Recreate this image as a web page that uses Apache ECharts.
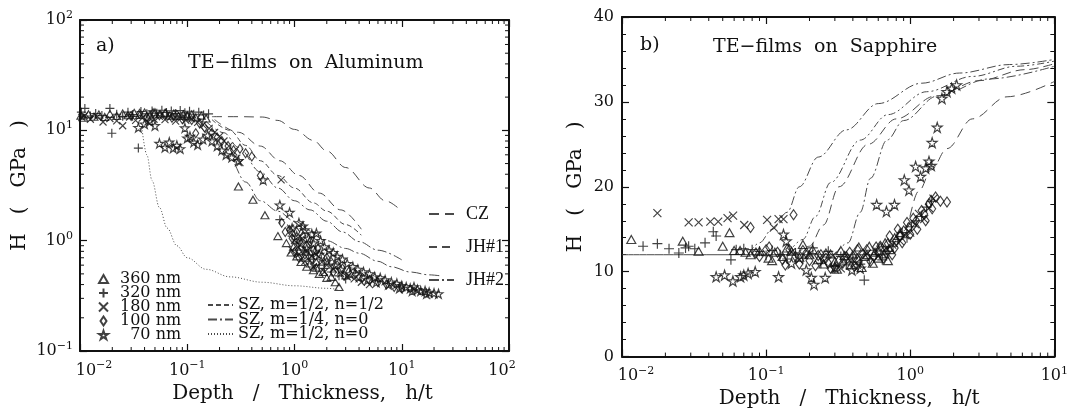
<!DOCTYPE html>
<html>
<head>
<meta charset="utf-8">
<title>TE-films hardness vs depth / thickness</title>
<script src="https://cdn.jsdelivr.net/npm/echarts@6.0.0/dist/echarts.min.js"></script>
<style>
  html, body { margin: 0; padding: 0; background: #fff; }
  #chart { width: 1071px; height: 414px; }
</style>
</head>
<body>
<div id="chart"></div>
<script>
// ---- panel a) TE-films on Aluminum : [h/t, H (GPa)] ----
const a360 = [
  [0.0102, 13.6], [0.0108, 13.0], [0.012, 14.0], [0.0135, 13.3], [0.015, 13.9], [0.017, 13.2], [0.019, 14.1],
  [0.022, 13.5], [0.025, 14.2], [0.028, 13.7], [0.032, 14.4], [0.036, 13.8], [0.04, 14.5], [0.045, 13.9],
  [0.05, 14.6], [0.056, 14.0], [0.062, 14.4], [0.068, 13.6], [0.075, 14.2], [0.083, 13.5], [0.092, 14.0],
  [0.1, 13.4], [0.11, 13.9], [0.12, 13.1], [0.135, 13.6], [0.15, 12.8],
  [0.3, 3.1], [0.41, 2.35], [0.53, 1.7], [0.7, 1.1], [0.84, 0.95], [0.93, 0.78], [0.98, 0.88], [1.05, 0.72],
  [1.1, 0.8], [1.15, 0.64], [1.25, 0.7], [1.3, 0.58], [1.4, 0.62], [1.5, 0.54], [1.6, 0.57], [1.7, 0.5],
  [1.85, 0.52], [2.0, 0.46], [2.2, 0.47], [2.4, 0.42], [2.6, 0.38]
]
const a320 = [
  [0.0103, 14.6], [0.0111, 15.8], [0.0125, 13.5], [0.014, 14.2], [0.016, 13.6], [0.019, 15.8], [0.0198, 9.4],
  [0.022, 14.0], [0.025, 13.4], [0.028, 14.6], [0.031, 13.9], [0.035, 6.9], [0.037, 14.8], [0.042, 14.1],
  [0.047, 15.0], [0.052, 14.3], [0.058, 15.2], [0.064, 14.5], [0.071, 15.0], [0.078, 14.2], [0.086, 15.1],
  [0.095, 14.4], [0.105, 14.9], [0.115, 14.0], [0.128, 14.6], [0.142, 13.8], [0.158, 14.1],
  [0.73, 1.55], [0.95, 1.1], [1.05, 0.95], [1.2, 0.82], [1.35, 0.74], [1.5, 0.68], [1.7, 0.6], [1.9, 0.56],
  [2.2, 0.52], [2.6, 0.48], [3.0, 0.45]
]
const a180 = [
  [0.0104, 13.1], [0.011, 13.6], [0.0125, 12.6], [0.0145, 13.3], [0.0164, 11.9], [0.019, 12.8], [0.022, 12.2],
  [0.025, 11.0], [0.029, 13.2], [0.033, 12.3], [0.038, 12.9], [0.043, 11.9], [0.049, 12.6], [0.055, 13.4],
  [0.062, 12.5], [0.07, 13.2], [0.078, 12.1], [0.087, 12.9], [0.097, 12.3], [0.11, 12.7], [0.125, 11.8],
  [0.14, 11.2], [0.16, 10.4], [0.18, 9.6], [0.2, 8.8], [0.22, 8.0], [0.245, 7.2], [0.27, 6.4], [0.29, 5.6], [0.31, 5.1],
  [0.75, 3.55], [0.92, 1.3], [1.0, 1.0], [1.08, 0.88], [1.18, 1.05], [1.3, 0.8], [1.45, 0.72], [1.6, 0.75],
  [1.8, 0.64], [2.0, 0.6], [2.3, 0.55], [2.7, 0.5], [3.1, 0.47], [3.6, 0.45], [4.2, 0.42], [5.0, 0.4],
  [0.95, 0.82], [1.1, 0.75], [1.25, 0.65], [1.5, 0.58], [1.9, 0.52]
]
const a100 = [
  [0.03, 13.5], [0.036, 14.1], [0.042, 13.2], [0.048, 14.3], [0.055, 13.7], [0.063, 14.1], [0.072, 13.0],
  [0.08, 13.8], [0.09, 12.6], [0.1, 13.4], [0.11, 12.4], [0.12, 9.4], [0.13, 11.6], [0.145, 10.6], [0.17, 9.5],
  [0.19, 8.6], [0.21, 8.0], [0.24, 7.2], [0.27, 6.6], [0.31, 6.8], [0.35, 6.2], [0.4, 5.8], [0.48, 3.9],
  [0.76, 1.45], [0.82, 1.2], [0.9, 1.25], [0.95, 1.05], [1.05, 1.2], [1.12, 0.98], [1.2, 1.1], [1.3, 0.9],
  [1.4, 0.98], [1.5, 0.82], [1.65, 0.85], [1.8, 0.72], [2.0, 0.7], [2.2, 0.64], [2.5, 0.6], [2.8, 0.56],
  [3.2, 0.52], [3.7, 0.5], [4.3, 0.46], [5.0, 0.44], [6.0, 0.42], [7.2, 0.4], [8.5, 0.38], [10, 0.37],
  [1.0, 0.78], [1.1, 0.7], [1.25, 0.75], [1.45, 0.68], [1.6, 0.62], [2.3, 0.52], [2.9, 0.48]
]
const a70 = [
  [0.035, 10.6], [0.04, 11.4], [0.045, 12.1], [0.05, 11.0], [0.055, 7.6], [0.062, 7.0], [0.068, 7.8],
  [0.074, 6.9], [0.08, 7.3], [0.086, 6.8], [0.095, 10.5], [0.1, 8.5], [0.106, 8.8], [0.115, 7.8], [0.125, 7.4],
  [0.14, 8.3], [0.155, 9.0], [0.17, 8.0], [0.19, 7.2], [0.21, 6.6], [0.23, 6.0], [0.26, 5.7], [0.3, 5.3],
  [0.51, 3.55], [0.73, 2.1], [0.9, 1.8], [1.1, 1.45], [1.25, 1.25], [1.45, 1.15], [1.6, 1.17], [1.35, 1.05],
  [1.5, 0.95], [1.75, 1.0], [1.9, 0.88], [2.1, 0.82], [2.3, 0.78], [2.5, 0.72], [2.8, 0.68], [3.1, 0.62],
  [3.5, 0.58], [3.9, 0.55], [4.4, 0.52], [5.0, 0.5], [5.6, 0.47], [6.3, 0.46], [7.0, 0.44], [8.0, 0.42],
  [9.0, 0.41], [10, 0.39], [11, 0.38], [12, 0.37], [13, 0.38], [14, 0.36], [15, 0.35], [16.5, 0.35],
  [18, 0.34], [20, 0.335], [22, 0.33],
  [0.95, 1.3], [1.05, 1.1], [1.15, 0.95], [1.2, 1.35], [1.3, 0.85], [1.55, 0.8], [1.7, 0.75], [2.0, 0.65],
  [2.4, 0.6], [2.7, 0.55], [3.3, 0.5], [4.0, 0.47], [4.8, 0.44], [5.8, 0.42], [7.5, 0.4], [9.5, 0.37],
  [12.5, 0.35], [17, 0.33]
]

// model curves, panel a
const czA = [[0.17, 13.3], [0.3, 13.3], [0.5, 13.2], [0.7, 12.3], [1.0, 10.2], [1.5, 8.1], [2.0, 6.5], [3.0, 4.6], [5.0, 3.0], [7.0, 2.3], [10, 1.85]]
const jh1A = [[0.18, 12.5], [0.3, 9.6], [0.48, 7.2], [0.73, 5.3], [1.1, 3.9], [1.7, 2.7], [2.7, 1.9], [4.2, 1.27]]
const sz22A = [[0.17, 12.5], [0.25, 10.0], [0.35, 7.3], [0.48, 5.3], [0.7, 3.9], [1.0, 3.0], [1.5, 2.2], [2.0, 1.85], [3.0, 1.4], [4.2, 1.12]]
const sz40A = [[0.15, 12.0], [0.22, 9.5], [0.3, 7.0], [0.48, 4.2], [0.7, 3.0], [1.0, 2.3], [1.4, 1.9], [2.0, 1.5], [2.8, 1.2], [4.0, 0.98], [6.0, 0.82], [10, 0.67]]
const jh2A = [[0.13, 11.0], [0.18, 8.5], [0.25, 5.5], [0.35, 3.4], [0.48, 2.3], [0.7, 1.85], [1.0, 1.5], [1.5, 1.2], [2.0, 1.0], [3.0, 0.85], [4.0, 0.77], [6.0, 0.65], [8.0, 0.58], [12, 0.52], [18, 0.49], [23, 0.48]]
const sz20A = [[0.038, 10.0], [0.042, 6.0], [0.047, 3.5], [0.055, 2.0], [0.065, 1.3], [0.08, 0.9], [0.1, 0.7], [0.15, 0.55], [0.25, 0.47], [0.5, 0.42], [1.0, 0.39], [2.0, 0.37], [2.6, 0.36]]

// ---- panel b) TE-films on Sapphire : [h/t, H (GPa)] ----
const b360 = [
  [0.0116, 13.8], [0.0264, 13.6], [0.034, 12.4], [0.05, 13.0], [0.0557, 14.6], [0.06, 12.5], [0.066, 12.5],
  [0.072, 12.3], [0.078, 12.0], [0.09, 12.4], [0.104, 11.6], [0.115, 12.3], [0.13, 11.8], [0.15, 12.4],
  [0.18, 13.2], [0.2, 12.0], [0.23, 11.4], [0.26, 12.2], [0.3, 11.2], [0.33, 12.5], [0.36, 11.5], [0.4, 12.0],
  [0.44, 12.9], [0.48, 11.8], [0.52, 13.0], [0.57, 12.3], [0.62, 12.9], [0.67, 13.4], [0.72, 12.6], [0.78, 14.0], [0.85, 14.6],
  [0.11, 11.3], [0.14, 12.8], [0.17, 11.7], [0.21, 12.6], [0.25, 10.9], [0.28, 12.1], [0.31, 10.3], [0.35, 11.9],
  [0.39, 10.8], [0.43, 11.6], [0.46, 10.5], [0.5, 12.0], [0.55, 11.0], [0.6, 11.6], [0.66, 12.1], [0.7, 11.3]
]
const b320 = [
  [0.014, 13.0], [0.0176, 13.3], [0.0212, 12.7], [0.0248, 12.2], [0.0276, 12.8], [0.029, 13.0], [0.032, 12.7],
  [0.0377, 13.4], [0.043, 14.7], [0.045, 14.2], [0.057, 11.4], [0.062, 12.6], [0.07, 12.7], [0.08, 12.6],
  [0.09, 12.4], [0.1, 11.9], [0.11, 12.5], [0.125, 12.0], [0.14, 11.5], [0.16, 12.2], [0.18, 11.6], [0.211, 12.8],
  [0.24, 11.0], [0.27, 12.4], [0.3, 10.6], [0.33, 11.8], [0.36, 10.8], [0.4, 11.7], [0.45, 10.9], [0.48, 9.0],
  [0.52, 11.5], [0.58, 12.0], [0.64, 11.4], [0.7, 12.4], [0.76, 13.0], [0.82, 13.8], [0.88, 14.6], [0.95, 14.0],
  [1.02, 15.3], [1.1, 16.0], [1.2, 16.5], [1.3, 17.6], [1.4, 18.3]
]
const b180 = [
  [0.0176, 16.9], [0.029, 15.8], [0.034, 15.8], [0.041, 15.9], [0.0465, 15.9], [0.054, 16.3], [0.059, 16.6],
  [0.0705, 15.5], [0.1016, 16.1], [0.113, 15.2], [0.122, 16.2], [0.132, 16.2], [0.15, 12.3], [0.17, 11.4],
  [0.2, 12.1], [0.25, 11.2], [0.29, 11.9], [0.33, 10.4], [0.38, 11.3], [0.42, 11.0], [0.5, 12.1], [0.6, 11.8],
  [0.68, 12.8], [0.75, 13.2], [0.85, 13.6], [0.92, 14.3], [1.0, 14.6], [1.08, 15.6], [1.15, 16.8], [1.25, 16.2],
  [1.35, 17.5], [1.45, 18.6]
]
const b100 = [
  [0.078, 15.2], [0.085, 12.2], [0.1, 12.6], [0.12, 12.3], [0.136, 10.8], [0.155, 16.7], [0.16, 11.8],
  [0.18, 12.5], [0.2, 11.3], [0.22, 10.7], [0.24, 12.0], [0.26, 11.6], [0.28, 10.4], [0.3, 10.5], [0.32, 11.3],
  [0.34, 11.0], [0.38, 12.3], [0.41, 10.6], [0.44, 11.3], [0.47, 12.1], [0.5, 12.6], [0.53, 11.2], [0.56, 11.8],
  [0.6, 12.4], [0.62, 13.0], [0.65, 11.6], [0.68, 12.2], [0.72, 14.2], [0.75, 12.0], [0.78, 12.8], [0.82, 15.0],
  [0.88, 13.4], [0.95, 15.8], [1.0, 14.4], [1.05, 16.3], [1.12, 15.0], [1.2, 17.2], [1.28, 16.0], [1.35, 18.0],
  [1.42, 17.4], [1.5, 18.8], [1.62, 18.3], [1.8, 18.2],
  [0.09, 11.8], [0.105, 12.9], [0.13, 11.4], [0.145, 12.6], [0.17, 10.9], [0.19, 12.2], [0.23, 11.9], [0.27, 11.0],
  [0.36, 11.8], [0.43, 12.6], [0.58, 12.9], [0.7, 13.3], [0.8, 13.6], [0.85, 14.2], [0.9, 14.8], [0.98, 15.2],
  [1.1, 16.0], [1.25, 16.8], [1.4, 18.4]
]
const b70 = [
  [0.045, 9.4], [0.0515, 9.6], [0.0588, 8.9], [0.0665, 9.4], [0.07, 9.6], [0.075, 9.8], [0.084, 10.0],
  [0.122, 9.4], [0.132, 14.4], [0.138, 13.6], [0.15, 11.0], [0.19, 10.2], [0.206, 9.3], [0.215, 8.5],
  [0.257, 9.3], [0.3, 10.5], [0.394, 10.2], [0.45, 10.4], [0.585, 17.9], [0.684, 17.1], [0.778, 17.9],
  [0.91, 20.8], [0.98, 19.6], [1.09, 22.4], [1.18, 21.2], [1.28, 22.2], [1.35, 23.0], [1.4, 22.5],
  [1.42, 25.2], [1.54, 27.0], [1.66, 30.4], [1.8, 31.2], [1.94, 31.6], [2.1, 32.0]
]

// model curves, panel b
const baseB = [[0.01, 12.0], [0.7, 12.0]]
const curveB1 = [[0.075, 12.0], [0.09, 13.4], [0.11, 15.0], [0.14, 17.0], [0.17, 20.0], [0.23, 23.5], [0.36, 26.7], [0.6, 29.8], [1.2, 32.2], [2.2, 33.4], [4.9, 34.4], [10, 35.0]]
const curveB2 = [[0.14, 12.0], [0.18, 13.8], [0.22, 16.5], [0.28, 20.5], [0.45, 25.5], [0.7, 28.5], [1.3, 31.2], [2.7, 33.0], [5.5, 34.2], [10, 34.8]]
const curveB3 = [[0.16, 12.0], [0.2, 13.0], [0.25, 15.5], [0.32, 20.0], [0.51, 25.0], [0.8, 28.0], [1.5, 30.7], [3.0, 32.5], [6.3, 33.8], [10, 34.5]]
const curveB4 = [[0.3, 12.0], [0.37, 13.4], [0.45, 17.0], [0.53, 21.0], [0.69, 25.5], [0.9, 27.8], [1.55, 30.7], [3.5, 32.7], [10, 34.2]]
const curveB5 = [[0.65, 12.0], [0.9, 14.8], [1.15, 19.5], [1.4, 22.0], [1.8, 24.5], [2.7, 28.0], [4.7, 30.6], [10, 32.4]]

// minor tick multipliers for the log axes
const minorMult = [2, 3, 4, 5, 6, 7, 8, 9]
const decadesAX = [0.01, 0.1, 1, 10]
const decadesAY = [0.1, 1, 10]
const decadesBX = [0.01, 0.1, 1]

const FONT = 'DejaVu Serif'
const INK = '#111'
const CURVE = '#4a4a4a'

const SYM = {
  tri: 'path://M5,0L10,9L0,9Z',
  plus: 'path://M5,0L5,10M0,5L10,5',
  cross: 'path://M0,0L10,10M10,0L0,10',
  diamond: 'path://M4,0L8,6L4,12L0,6Z',
  star: 'path://M5,0L6.2,3.6L10,3.6L6.9,5.9L8.1,9.5L5,7.3L1.9,9.5L3.1,5.9L0,3.6L3.8,3.6Z'
}

const expand = (decs) => {
  const out = []
  decs.forEach(d => minorMult.forEach(m => out.push(d * m)))
  return out
}

// 10^n labels; the corner labels sit a bit inward like in the print
function powLabel (v) {
  const e = Math.round(Math.log10(v))
  const sup = String(e).replace('-', '\u2212')
  if (e === -2) return '{bl|10}{s|' + sup + '}'
  if (e === 2) return '{b|10}{sr|' + sup + '}'
  return '{b|10}{s|' + sup + '}'
}
function powLabelY (v) {
  const e = Math.round(Math.log10(v))
  return '{b|10}{s|' + String(e).replace('-', '\u2212') + '}'
}
const powRich = {
  b: { fontFamily: FONT, fontSize: 16, color: INK },
  bl: { fontFamily: FONT, fontSize: 16, color: INK, padding: [0, 0, 0, 28] },
  s: { fontFamily: FONT, fontSize: 11, color: INK, padding: [0, 0, 10, 0] },
  sr: { fontFamily: FONT, fontSize: 11, color: INK, padding: [0, 14, 10, 0] }
}

function dots (name, data, sym, size, gi) {
  return {
    name: name,
    type: 'scatter',
    xAxisIndex: gi * 2,
    yAxisIndex: gi * 2,
    symbol: sym,
    symbolSize: size,
    data: data,
    itemStyle: { color: 'rgba(0,0,0,0)', borderColor: INK, borderWidth: 1.15 },
    z: 3
  }
}

function curve (name, data, dash, gi) {
  return {
    name: name,
    type: 'line',
    xAxisIndex: gi * 2,
    yAxisIndex: gi * 2,
    data: data,
    symbol: 'none',
    smooth: 0.35,
    smoothMonotone: 'x',
    itemStyle: { color: CURVE },
    lineStyle: { color: CURVE, width: 1, type: dash },
    z: 2
  }
}

// short inward ticks drawn through the axes, for the log minor ticks
function minorX (gi, vals, yLo, yHi) {
  return {
    type: 'custom',
    xAxisIndex: gi * 2,
    yAxisIndex: gi * 2,
    silent: true,
    clip: false,
    data: vals.map(v => [v, yLo]),
    renderItem: (params, api) => {
      const a = api.coord([api.value(0), yLo])
      const b = api.coord([api.value(0), yHi])
      return {
        type: 'group',
        children: [
          { type: 'line', shape: { x1: a[0], y1: a[1], x2: a[0], y2: a[1] - 4 }, style: { stroke: INK, lineWidth: 1 } },
          { type: 'line', shape: { x1: b[0], y1: b[1], x2: b[0], y2: b[1] + 4 }, style: { stroke: INK, lineWidth: 1 } }
        ]
      }
    }
  }
}
function minorY (gi, vals, xLo, xHi) {
  return {
    type: 'custom',
    xAxisIndex: gi * 2,
    yAxisIndex: gi * 2,
    silent: true,
    clip: false,
    data: vals.map(v => [xLo, v]),
    renderItem: (params, api) => {
      const a = api.coord([xLo, api.value(1)])
      const b = api.coord([xHi, api.value(1)])
      return {
        type: 'group',
        children: [
          { type: 'line', shape: { x1: a[0], y1: a[1], x2: a[0] + 4, y2: a[1] }, style: { stroke: INK, lineWidth: 1 } },
          { type: 'line', shape: { x1: b[0], y1: b[1], x2: b[0] - 4, y2: b[1] }, style: { stroke: INK, lineWidth: 1 } }
        ]
      }
    }
  }
}

const axisLine = { onZero: false, lineStyle: { color: INK, width: 2 } }
const axisTick = { inside: true, length: 7, lineStyle: { color: INK, width: 1.2 } }
const nameStyle = { fontFamily: FONT, fontSize: 20, color: INK }
const titleStyle = { fontFamily: FONT, fontSize: 19, fontWeight: 'normal', color: INK }

function logX (gi, max, pos, shift) {
  return {
    gridIndex: gi,
    type: 'log',
    logBase: 10,
    min: 0.01,
    max: max,
    position: pos,
    axisLine: axisLine,
    axisTick: axisTick,
    splitLine: { show: false },
    axisLabel: pos === 'bottom' ? { formatter: powLabel, rich: powRich, margin: 9 } : { show: false },
    name: pos === 'bottom' ? 'Depth   /   Thickness,   h/t' : '',
    nameLocation: 'middle',
    nameGap: 29,
    nameTextStyle: Object.assign({ padding: [0, 0, 0, shift || 0] }, nameStyle)
  }
}

const chart = echarts.init(document.getElementById('chart'))
const option = {
  animation: false,
  title: [
    { text: 'a)', left: 96, top: 37, padding: 0, textStyle: titleStyle },
    { text: 'TE\u2212films  on  Aluminum', left: 188, top: 54, padding: 0, textStyle: titleStyle },
    { text: 'b)', left: 640, top: 36, padding: 0, textStyle: titleStyle },
    { text: 'TE\u2212films  on  Sapphire', left: 713, top: 38, padding: 0, textStyle: titleStyle }
  ],
  legend: [
    {
      data: ['360 nm', '320 nm', '180 nm', '100 nm', '70 nm'],
      orient: 'vertical',
      left: 98,
      top: 271,
      padding: 0,
      itemWidth: 9,
      itemHeight: 9,
      itemGap: -2,
      selectedMode: false,
      formatter: name => (name === '70 nm' ? '\u2007' + name : name),
      textStyle: { fontFamily: FONT, fontSize: 16, color: INK, padding: [0, 0, 0, 7] }
    },
    {
      data: ['SZ, m=1/2, n=1/2', 'SZ, m=1/4, n=0', 'SZ, m=1/2, n=0'],
      orient: 'vertical',
      left: 207,
      top: 297,
      padding: 0,
      itemWidth: 25,
      itemHeight: 8,
      itemGap: -1.5,
      selectedMode: false,
      itemStyle: { opacity: 0 },
      textStyle: { fontFamily: FONT, fontSize: 16, color: INK }
    },
    {
      data: ['CZ', 'JH#1', 'JH#2'],
      orient: 'vertical',
      left: 428,
      top: 205,
      padding: 0,
      itemWidth: 25,
      itemHeight: 8,
      itemGap: 15,
      selectedMode: false,
      itemStyle: { opacity: 0 },
      textStyle: { fontFamily: 'Liberation Serif', fontSize: 18, color: INK, padding: [0, 0, 0, 7] }
    }
  ],
  grid: [
    { left: 80, top: 20, width: 429, height: 331 },
    { left: 622, top: 17, width: 441, height: 340 }
  ],
  xAxis: [
    logX(0, 100, 'bottom', 16),
    logX(0, 100, 'top'),
    logX(1, 10, 'bottom', 22),
    logX(1, 10, 'top')
  ],
  yAxis: [
    {
      gridIndex: 0,
      type: 'log',
      logBase: 10,
      min: 0.1,
      max: 100,
      position: 'left',
      axisLine: axisLine,
      axisTick: axisTick,
      splitLine: { show: false },
      axisLabel: { formatter: powLabelY, rich: powRich, margin: 7 },
      name: 'H   (   GPa   )',
      nameLocation: 'middle',
      nameGap: 50,
      nameTextStyle: nameStyle
    },
    {
      gridIndex: 0,
      type: 'log',
      logBase: 10,
      min: 0.1,
      max: 100,
      position: 'right',
      axisLine: axisLine,
      axisTick: axisTick,
      splitLine: { show: false },
      axisLabel: { show: false }
    },
    {
      gridIndex: 1,
      type: 'value',
      min: 0,
      max: 40,
      interval: 10,
      position: 'left',
      axisLine: axisLine,
      axisTick: axisTick,
      minorTick: { show: true, splitNumber: 5, length: 4, lineStyle: { color: INK, width: 1 } },
      splitLine: { show: false },
      axisLabel: { fontFamily: FONT, fontSize: 16, color: INK, margin: 8 },
      name: 'H   (   GPa   )',
      nameLocation: 'middle',
      nameGap: 36,
      nameTextStyle: nameStyle
    },
    {
      gridIndex: 1,
      type: 'value',
      min: 0,
      max: 40,
      interval: 10,
      position: 'right',
      axisLine: axisLine,
      axisTick: axisTick,
      minorTick: { show: true, splitNumber: 5, length: 4, lineStyle: { color: INK, width: 1 } },
      splitLine: { show: false },
      axisLabel: { show: false }
    }
  ],
  series: [
    // panel a curves
    curve('CZ', czA, [10, 6], 0),
    curve('JH#1', jh1A, [8, 5], 0),
    curve('JH#2', jh2A, [10, 3, 2, 3], 0),
    curve('SZ, m=1/2, n=1/2', sz22A, [5, 3], 0),
    curve('SZ, m=1/4, n=0', sz40A, [9, 3, 2, 3], 0),
    curve('SZ, m=1/2, n=0', sz20A, [1, 2], 0),
    // panel a data
    dots('360 nm', a360, SYM.tri, [8, 7], 0),
    dots('320 nm', a320, SYM.plus, 9, 0),
    dots('180 nm', a180, SYM.cross, 7, 0),
    dots('100 nm', a100, SYM.diamond, [6, 9], 0),
    dots('70 nm', a70, SYM.star, 9, 0),
    // panel b curves
    curve('baseline', baseB, 'solid', 1),
    curve('model 1', curveB1, [9, 3, 2, 3], 1),
    curve('model 2', curveB2, [7, 3, 2, 3, 2, 3], 1),
    curve('model 3', curveB3, [9, 5], 1),
    curve('model 4', curveB4, [9, 3, 2, 3], 1),
    curve('model 5', curveB5, [10, 6], 1),
    // panel b data
    dots('360 nm', b360, SYM.tri, [9, 8], 1),
    dots('320 nm', b320, SYM.plus, 10, 1),
    dots('180 nm', b180, SYM.cross, 8, 1),
    dots('100 nm', b100, SYM.diamond, [7, 10], 1),
    dots('70 nm', b70, SYM.star, 10, 1),
    // minor ticks of the log axes
    minorX(0, expand(decadesAX), 0.1, 100),
    minorY(0, expand(decadesAY), 0.01, 100),
    minorX(1, expand(decadesBX), 0, 40)
  ]
}
chart.setOption(option)
</script>
</body>
</html>
